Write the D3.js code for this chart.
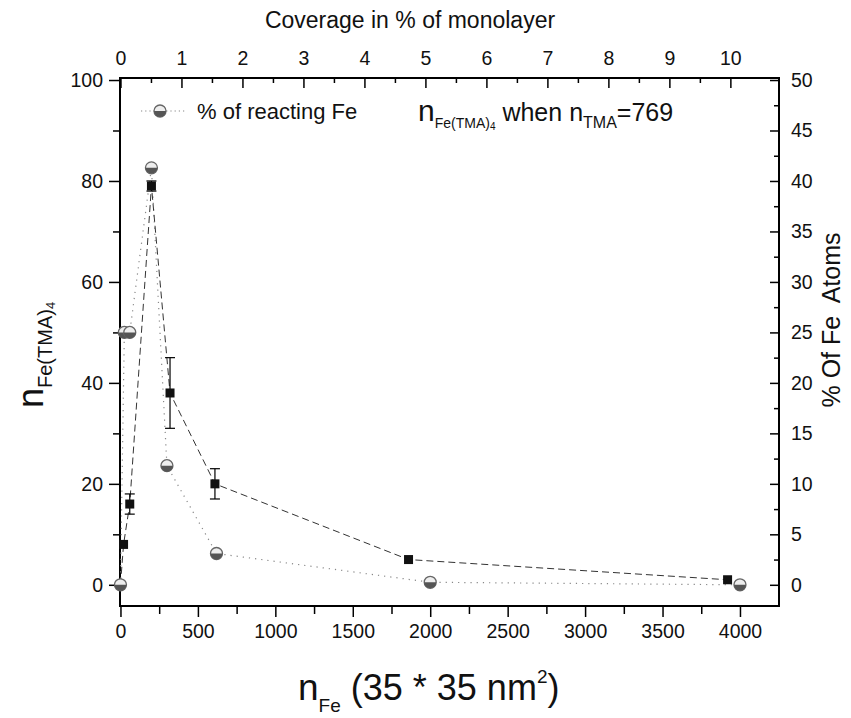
<!DOCTYPE html>
<html>
<head>
<meta charset="utf-8">
<script src="https://d3js.org/d3.v7.min.js"></script>
<style>
  body { margin: 0; background: #fff; }
  text { font-family: "Liberation Sans", Arial, sans-serif; fill: #111; }
</style>
</head>
<body>
<div id="chart"></div>
<script>
// Fe(TMA)4 complexes counted per 35*35 nm^2 frame
var nFe        = [0, 20, 60, 200, 320, 610, 1860, 3920]
var nComplex   = [0, 8, 16, 79, 38, 20, 5, 1]
var errComplex = [0, 0, 2, 1, 7, 3, 0, 0]

// % of reacting Fe (right axis)
var nFePct   = [0, 25, 60, 200, 300, 620, 2000, 4000]
var pctReact = [0, 25, 25, 41.3, 11.8, 3.1, 0.25, 0]

// tick labels
var xTicks   = [0, 500, 1000, 1500, 2000, 2500, 3000, 3500, 4000]
var yTicks   = [0, 20, 40, 60, 80, 100]
var rTicks   = [0, 5, 10, 15, 20, 25, 30, 35, 40, 45, 50]
var topTicks = [0, 1, 2, 3, 4, 5, 6, 7, 8, 9, 10]
var atomsPerPercent = 393.8   // n_Fe for 1 % of a monolayer

var width = 851, height = 718
var pLeft = 120, pRight = 779, pTop = 78, pBottom = 606
var tickFont = 19.5

var svg = d3.select("#chart").append("svg")
    .attr("width", width)
    .attr("height", height)

var x = d3.scaleLinear().domain([-3, 4252]).range([pLeft, pRight])
var y = d3.scaleLinear().domain([-4.2, 100.4]).range([pBottom, pTop])
var yR = d3.scaleLinear().domain([-2.1, 50.2]).range([pBottom, pTop])
var xTop = d3.scaleLinear().domain([0, 10]).range([x(0), x(10 * atomsPerPercent)])

function mids(arr) {
    var out = []
    for (var i = 0; i < arr.length - 1; i++) out.push((arr[i] + arr[i + 1]) / 2)
    return out
}

function drawAxis(axis, tx, ty) {
    var g = svg.append("g")
        .attr("transform", "translate(" + tx + "," + ty + ")")
        .call(axis)
    g.select(".domain").remove()
    g.selectAll("line").attr("stroke", "#000").attr("stroke-width", 1.5)
    g.selectAll("text").style("font-size", tickFont + "px")
        .style("font-family", '"Liberation Sans", Arial, sans-serif')
        .attr("fill", "#111")
    return g
}

var fmt = d3.format("d")

// bottom
drawAxis(d3.axisBottom(x).tickValues(mids(xTicks)).tickSize(8).tickFormat(""), 0, pBottom)
drawAxis(d3.axisBottom(x).tickValues(xTicks).tickSize(11).tickPadding(7).tickFormat(fmt), 0, pBottom)
// left
drawAxis(d3.axisLeft(y).tickValues(mids(yTicks)).tickSize(7).tickFormat(""), pLeft, 0)
drawAxis(d3.axisLeft(y).tickValues(yTicks).tickSize(11).tickPadding(6).tickFormat(fmt), pLeft, 0)
// right, ticks point inward
drawAxis(d3.axisRight(yR).tickValues(mids(rTicks)).tickSize(-5).tickFormat(""), pRight, 0)
drawAxis(d3.axisRight(yR).tickValues(rTicks).tickSize(-9).tickPadding(12).tickFormat(fmt), pRight, 0)
// top, ticks point inward
drawAxis(d3.axisTop(xTop).tickValues(mids(topTicks)).tickSize(-5).tickFormat(""), 0, pTop)
drawAxis(d3.axisTop(xTop).tickValues(topTicks).tickSize(-10).tickPadding(13).tickFormat(fmt), 0, pTop)

// frame
svg.append("rect")
    .attr("x", pLeft).attr("y", pTop)
    .attr("width", pRight - pLeft).attr("height", pBottom - pTop)
    .attr("fill", "none").attr("stroke", "#000").attr("stroke-width", 2)

// axis titles
svg.append("text")
    .attr("x", 410).attr("y", 28)
    .attr("text-anchor", "middle")
    .style("font-size", "23px").attr("fill", "#222")
    .text("Coverage in % of monolayer")

var yl = svg.append("text")
    .attr("transform", "translate(43,408) rotate(-90)")
yl.append("tspan").style("font-size", "36px").text("n")
yl.append("tspan").style("font-size", "20px").attr("dy", 9).text("Fe(TMA)")
yl.append("tspan").style("font-size", "13px").attr("dy", 3).text("4")

svg.append("text")
    .attr("transform", "translate(840,320) rotate(-90)")
    .attr("text-anchor", "middle")
    .style("font-size", "25px").style("white-space", "pre").attr("fill", "#444")
    .text("% Of Fe  Atoms")

var xl = svg.append("text").attr("x", 298).attr("y", 700)
xl.append("tspan").style("font-size", "37px").text("n")
xl.append("tspan").style("font-size", "19px").attr("dy", 12).text("Fe")
xl.append("tspan").style("font-size", "36px").attr("dy", -12).text(" (35 * 35 nm")
xl.append("tspan").style("font-size", "19px").attr("dy", -17).text("2")
xl.append("tspan").style("font-size", "36px").attr("dy", 17).text(")")

// annotation
var ann = svg.append("text").attr("x", 418).attr("y", 121)
ann.append("tspan").style("font-size", "30px").text("n")
ann.append("tspan").style("font-size", "14px").attr("dy", 7).text("Fe(TMA)")
ann.append("tspan").style("font-size", "10px").attr("dy", 2).text("4")
ann.append("tspan").style("font-size", "25px").attr("dy", -9).text(" when n")
ann.append("tspan").style("font-size", "16px").attr("dy", 7).text("TMA")
ann.append("tspan").style("font-size", "25px").attr("dy", -7).text("=769")

// lines
var squares = nFe.map(function(d, i) { return {x: d, y: nComplex[i], e: errComplex[i]} })
var circles = nFePct.map(function(d, i) { return {x: d, y: pctReact[i]} })

svg.append("path")
    .datum(circles)
    .attr("fill", "none")
    .attr("stroke", "#888")
    .attr("stroke-width", 1.2)
    .attr("stroke-dasharray", "1.2,5")
    .attr("d", d3.line().x(function(d) { return x(d.x) }).y(function(d) { return yR(d.y) }))

svg.append("path")
    .datum(squares)
    .attr("fill", "none")
    .attr("stroke", "#333")
    .attr("stroke-width", 1)
    .attr("stroke-dasharray", "7,4")
    .attr("d", d3.line().x(function(d) { return x(d.x) }).y(function(d) { return y(d.y) }))

// error bars
var eb = svg.selectAll(".err").data(squares.filter(function(d) { return d.e > 0 }))
    .enter().append("g").attr("stroke", "#000").attr("stroke-width", 1.2)
eb.append("line")
    .attr("x1", function(d) { return x(d.x) }).attr("x2", function(d) { return x(d.x) })
    .attr("y1", function(d) { return y(d.y + d.e) }).attr("y2", function(d) { return y(d.y - d.e) })
eb.append("line")
    .attr("x1", function(d) { return x(d.x) - 5 }).attr("x2", function(d) { return x(d.x) + 5 })
    .attr("y1", function(d) { return y(d.y + d.e) }).attr("y2", function(d) { return y(d.y + d.e) })
eb.append("line")
    .attr("x1", function(d) { return x(d.x) - 5 }).attr("x2", function(d) { return x(d.x) + 5 })
    .attr("y1", function(d) { return y(d.y - d.e) }).attr("y2", function(d) { return y(d.y - d.e) })

// square markers
svg.selectAll(".sq").data(squares).enter().append("rect")
    .attr("x", function(d) { return x(d.x) - 4.5 })
    .attr("y", function(d) { return y(d.y) - 4.5 })
    .attr("width", 9).attr("height", 9)
    .attr("fill", "#111")

// half shaded circle markers
function circleMarker(g) {
    g.append("circle").attr("r", 6).attr("fill", "#eee").attr("stroke", "#666").attr("stroke-width", 1.3)
    g.append("path").attr("d", "M-6,0 A6,6 0 0,0 6,0 Z").attr("fill", "#555")
}
svg.selectAll(".ci").data(circles).enter().append("g")
    .attr("transform", function(d) { return "translate(" + x(d.x) + "," + yR(d.y) + ")" })
    .each(function() { circleMarker(d3.select(this)) })

// legend
svg.append("line")
    .attr("x1", 141).attr("x2", 186).attr("y1", 111).attr("y2", 111)
    .attr("stroke", "#888").attr("stroke-width", 1.2).attr("stroke-dasharray", "1.2,3")
svg.append("g").attr("transform", "translate(160,111)")
    .each(function() { circleMarker(d3.select(this)) })
svg.append("text").attr("x", 197).attr("y", 119)
    .style("font-size", "22px").text("% of reacting Fe")
</script>
</body>
</html>
